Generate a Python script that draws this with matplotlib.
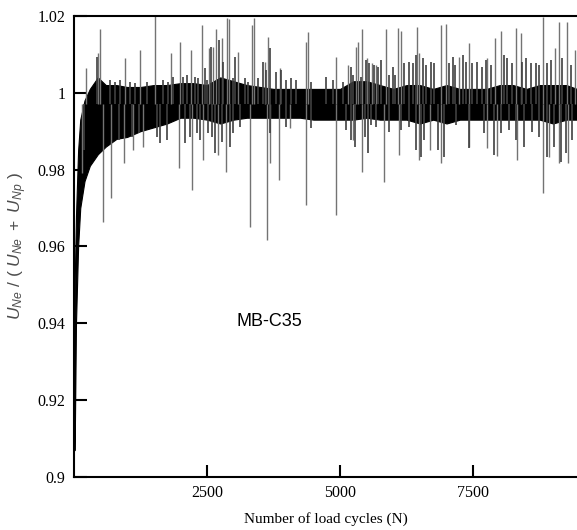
import matplotlib
matplotlib.use("Agg")
import matplotlib.pyplot as plt

# dense band of the signal: cycle, lower edge, upper edge
band_n = [5, 15, 40, 80, 120, 200, 300, 450, 600, 800, 1000, 1250, 1500, 1750,
          2000, 2250, 2500, 2750, 3000, 3250, 3500, 3750, 4000, 4250, 4500,
          4750, 5000, 5250, 5500, 5750, 6000, 6250, 6500, 6750, 7000, 7250,
          7500, 7750, 8000, 8250, 8500, 8750, 9000, 9250, 9450]
band_hi = [0.912, 0.950, 0.968, 0.985, 0.993, 0.998, 1.001, 1.004, 1.002, 1.002,
           1.0015, 1.0015, 1.002, 1.002, 1.0025, 1.0025, 1.002, 1.004, 1.003,
           1.002, 1.0015, 1.001, 1.001, 1.001, 1.001, 1.001, 1.001, 1.003, 1.003,
           1.002, 1.001, 1.002, 1.002, 1.001, 1.002, 1.001, 1.001, 1.001, 1.002,
           1.002, 1.001, 1.002, 1.002, 1.002, 1.001]
band_lo = [0.907, 0.907, 0.940, 0.960, 0.970, 0.977, 0.981, 0.984, 0.986, 0.988,
           0.9885, 0.990, 0.991, 0.992, 0.9935, 0.9935, 0.993, 0.992, 0.993,
           0.9935, 0.9935, 0.9935, 0.9935, 0.9935, 0.993, 0.993, 0.993, 0.993,
           0.9935, 0.993, 0.993, 0.993, 0.992, 0.993, 0.992, 0.993, 0.993, 0.993,
           0.993, 0.993, 0.993, 0.993, 0.992, 0.993, 0.993]

# long isolated spikes above the band
up_n = [234, 459, 496, 964, 1245, 1526, 1826, 1994, 2200, 2400, 2538, 2612,
        2668, 2775, 2869, 2912, 3080, 3337, 3380, 3586, 3643, 3868, 4367, 4392,
        4929, 5140, 5303, 5346, 5421, 5515, 5608, 5678, 5865, 6095, 6145, 6451,
        6489, 6895, 6989, 7238, 7425, 7762, 7912, 8019, 8305, 8393, 8811, 9036,
        9111, 9261, 9410]
up_v = [1.0065, 1.0104, 1.0166, 1.009, 1.0112, 1.021, 1.0104, 1.0132, 1.0112,
        1.0177, 1.0117, 1.012, 1.0166, 1.0143, 1.0195, 1.0192, 1.0106, 1.0177,
        1.0195, 1.008, 1.0145, 1.0065, 1.0132, 1.0158, 1.0094, 1.0073, 1.012,
        1.0132, 1.0165, 1.009, 1.0078, 1.0073, 1.0166, 1.0169, 1.0161, 1.0171,
        1.0104, 1.0177, 1.0179, 1.0094, 1.013, 1.009, 1.0143, 1.0161, 1.0169,
        1.0156, 1.0198, 1.0117, 1.0185, 1.0185, 1.0112]

# long isolated spikes below the band
down_n = [159, 552, 702, 946, 1114, 1301, 1976, 2213, 2425, 2706, 2856, 3305,
          3637, 3693, 3849, 4054, 4367, 4929, 5234, 5416, 5833, 6114, 6489,
          6695, 6895, 7425, 7762, 7950, 8324, 8811, 8923, 9111, 9280]
down_v = [0.9791, 0.9664, 0.9726, 0.9817, 0.985, 0.9859, 0.9804, 0.9747, 0.9825,
          0.9838, 0.9794, 0.9651, 0.9617, 0.9817, 0.9773, 0.9908, 0.9708, 0.9682,
          0.9877, 0.9794, 0.9768, 0.9838, 0.9825, 0.9851, 0.9818, 0.9859, 0.9856,
          0.9836, 0.9825, 0.9740, 0.9833, 0.9817, 0.9817]

# shorter spikes making the ragged upper edge
short_up_n = [434, 684, 777, 871, 1058, 1152, 1371, 1682, 1776, 1869, 2057, 2120,
              2275, 2338, 2463, 2506, 2569, 2731, 2806, 2993, 3025, 3212, 3274,
              3461, 3555, 3618, 3680, 3805, 3899, 3993, 4086, 4180, 4461, 4742,
              4866, 5053, 5210, 5240, 5397, 5491, 5552, 5646, 5708, 5771, 5927,
              5989, 6039, 6208, 6302, 6364, 6427, 6551, 6614, 6708, 6770, 7051,
              7113, 7163, 7300, 7363, 7487, 7581, 7675, 7738, 7832, 8081, 8143,
              8236, 8424, 8487, 8581, 8675, 8736, 8892, 8955, 9173, 9330]
short_up_v = [1.0094, 1.0033, 1.0029, 1.0033, 1.0027, 1.0025, 1.0029, 1.0033,
              1.0027, 1.0042, 1.0042, 1.0046, 1.0042, 1.0038, 1.0064, 1.0033,
              1.012, 1.0138, 1.0081, 1.0038, 1.0094, 1.0038, 1.0029, 1.0038,
              1.0081, 1.0059, 1.0116, 1.0055, 1.0059, 1.0033, 1.0038, 1.0033,
              1.0029, 1.0042, 1.0033, 1.0029, 1.0068, 1.0046, 1.0042, 1.0085,
              1.0077, 1.0073, 1.0068, 1.0085, 1.0046, 1.0068, 1.0046, 1.0077,
              1.0081, 1.0077, 1.0098, 1.009, 1.0073, 1.0081, 1.0077, 1.0077,
              1.0094, 1.0073, 1.0098, 1.0081, 1.0077, 1.0081, 1.0068, 1.0085,
              1.0073, 1.0098, 1.009, 1.0077, 1.0081, 1.009, 1.0077, 1.0077,
              1.0073, 1.0077, 1.0085, 1.009, 1.0073]

# shorter spikes making the ragged lower edge
short_dn_n = [184, 840, 1090, 1215, 1558, 1620, 1745, 2088, 2182, 2307, 2369,
              2525, 2588, 2650, 2775, 2931, 2993, 3118, 3680, 3993, 4461, 5116,
              5210, 5272, 5459, 5521, 5583, 5677, 5927, 6145, 6302, 6427, 6520,
              6583, 6832, 6957, 7176, 7425, 7706, 7894, 8019, 8174, 8299, 8455,
              8611, 8736, 8892, 9017, 9142, 9236, 9360]
short_dn_v = [0.9851, 0.9877, 0.9886, 0.9895, 0.9886, 0.9869, 0.9877, 0.9869,
              0.9886, 0.9895, 0.9877, 0.9895, 0.9886, 0.9843, 0.9873, 0.986,
              0.9895, 0.9912, 0.9895, 0.9912, 0.9908, 0.9903, 0.9877, 0.986,
              0.9886, 0.9843, 0.9916, 0.9912, 0.9899, 0.9903, 0.9912, 0.9851,
              0.9834, 0.9877, 0.9851, 0.9834, 0.9916, 0.9856, 0.9895, 0.9838,
              0.9895, 0.9903, 0.9877, 0.986, 0.9899, 0.9886, 0.9834, 0.986,
              0.9821, 0.9843, 0.9877]

x_ticks = [2500, 5000, 7500]
y_ticks = [0.9, 0.92, 0.94, 0.96, 0.98, 1.0, 1.02]
y_labels = ["0.9", "0.92", "0.94", "0.96", "0.98", "1", "1.02"]

plt.rcParams['mathtext.fontset'] = 'custom'
plt.rcParams['mathtext.it'] = 'Liberation Sans:italic'
plt.rcParams['mathtext.rm'] = 'Liberation Sans'

fig = plt.figure(figsize=(5.77, 5.30), dpi=100)
ax = fig.add_axes([0.128, 0.1, 0.872, 0.87])

mid = 0.997
ax.vlines(up_n, mid, up_v, color='0.45', lw=1)
ax.vlines(down_n, down_v, mid, color='0.45', lw=1)
ax.vlines(short_up_n, mid, short_up_v, color='0.25', lw=1.2)
ax.vlines(short_dn_n, short_dn_v, mid, color='0.25', lw=1.2)
ax.fill_between(band_n, band_lo, band_hi, color='black', lw=0.8, edgecolor='black')

ax.set_xlim(0, 9450)
ax.set_ylim(0.9, 1.02)
ax.set_xticks(x_ticks)
ax.set_xticklabels([str(t) for t in x_ticks], fontfamily='Liberation Serif', fontsize=11.5)
ax.set_yticks(y_ticks)
ax.set_yticklabels(y_labels, fontfamily='Liberation Serif', fontsize=11.5)
ax.tick_params(direction='in', length=9, width=1.5, top=False, right=False, pad=6)
for s in ['left', 'bottom', 'top']:
    ax.spines[s].set_linewidth(1.5)
ax.spines['right'].set_visible(False)

ax.set_xlabel('Number of load cycles (N)', fontfamily='Liberation Serif', fontsize=11, labelpad=8)
ax.set_ylabel(r'$U_{Ne}\ /\ (\ U_{Ne}\ +\ U_{Np}\ )$', fontsize=12.5, color='0.3', labelpad=6)
ax.text(3680, 0.9404, 'MB-C35', fontfamily='Liberation Sans', fontsize=13, ha='center', va='center')

fig.savefig('out.png', dpi=100)
